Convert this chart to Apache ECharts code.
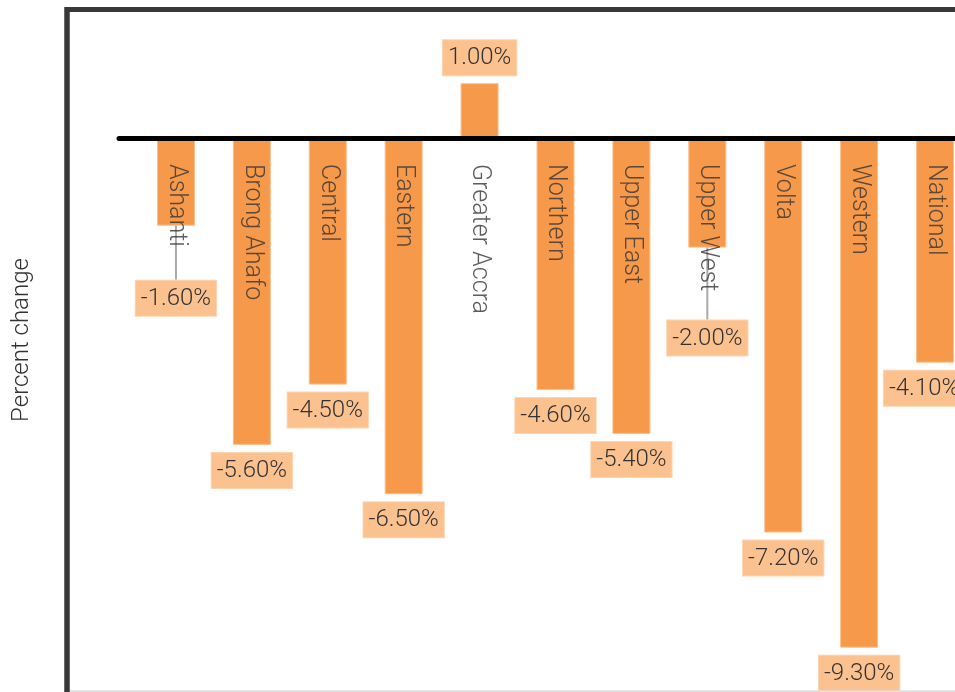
<!DOCTYPE html>
<html>
<head>
<meta charset="utf-8">
<script src="https://cdn.jsdelivr.net/npm/echarts@6/dist/echarts.min.js"></script>
<style>
html,body{margin:0;padding:0;background:#fff;}
#c{width:955px;height:692px;}
</style>
</head>
<body>
<div id="c"></div>
<script>
const categories = ['Ashanti','Brong Ahafo','Central','Eastern','Greater Accra','Northern','Upper East','Upper West','Volta','Western','National'];
const values = [-1.6, -5.6, -4.5, -6.5, 1.0, -4.6, -5.4, -2.0, -7.2, -9.3, -4.1];
const yMin = -12, yMax = 2;

// label nudges (style only) for labels moved to avoid overlaps
const labelShift = {'Ashanti': {dy: 47}, 'Upper West': {dy: 65}, 'National': {dx: -11}};

const FONT = 'Roboto';
const TXT = '#333333';
const PX_PER_UNIT = 54.8;
const ZERO_Y = 138;
const gridTop = ZERO_Y - yMax * PX_PER_UNIT;
const gridHeight = (yMax - yMin) * PX_PER_UNIT;
const gridBottom = 692 - gridTop - gridHeight;

const chart = echarts.init(document.getElementById('c'), null, {renderer: 'canvas'});

const barData = values.map((v, i) => ({
  value: v,
  label: {position: v < 0 ? 'bottom' : 'top'},
  labelLine: {show: !!(labelShift[categories[i]] && labelShift[categories[i]].dy)}
}));

chart.setOption({
  animation: false,
  backgroundColor: '#ffffff',
  grid: [
    {left: 119, top: gridTop, bottom: gridBottom, right: -60, outerBoundsMode: 'none', containLabel: false},
    {left: 138, top: gridTop, bottom: gridBottom, right: -18, outerBoundsMode: 'none', containLabel: false}
  ],
  xAxis: [
    {
      type: 'value', gridIndex: 0, min: 0, max: 1, z: 10,
      axisLine: {show: true, onZero: true, lineStyle: {color: '#000', width: 5}},
      axisTick: {show: false}, axisLabel: {show: false}, splitLine: {show: false}
    },
    {
      type: 'category', gridIndex: 1, data: categories,
      axisLine: {show: false}, axisTick: {show: false},
      axisLabel: {show: false}, splitLine: {show: false}
    }
  ],
  yAxis: [
    {type: 'value', gridIndex: 0, min: yMin, max: yMax, show: false},
    {type: 'value', gridIndex: 1, min: yMin, max: yMax, show: false}
  ],
  series: [{
    type: 'bar',
    xAxisIndex: 1, yAxisIndex: 1,
    data: barData,
    barWidth: 38,
    itemStyle: {color: '#f7994a', borderColor: '#fbbf8c', borderWidth: 1},
    label: {
      show: true,
      distance: 8,
      formatter: p => p.value.toFixed(2) + '%',
      color: TXT, fontFamily: FONT, fontWeight: 300, fontSize: 24,
      backgroundColor: '#fbc290', borderColor: '#fdd4b0', borderWidth: 1,
      padding: [6, 5, 5, 5]
    },
    labelLine: {lineStyle: {color: '#aaaaaa', width: 2}},
    labelLayout: function (params) {
      const s = labelShift[categories[params.dataIndex]];
      return s ? {dx: s.dx || 0, dy: s.dy || 0} : {};
    }
  }, {
    // category names hung from the zero line
    type: 'scatter',
    xAxisIndex: 1, yAxisIndex: 1,
    z: 5,
    symbolSize: 0,
    silent: true,
    data: categories.map(c => [c, 0]),
    label: {
      show: true,
      formatter: p => p.name || p.value[0],
      position: 'bottom', distance: 28, offset: [-2, 0],
      rotate: -90, align: 'left', verticalAlign: 'middle',
      color: TXT, fontFamily: FONT, fontWeight: 300, fontSize: 25
    }
  }],
  graphic: [
    {type: 'line', z: 100, shape: {x1: 67, y1: 9.5, x2: 960, y2: 9.5}, style: {stroke: '#383838', lineWidth: 5}},
    {type: 'line', z: 100, shape: {x1: 67, y1: 7, x2: 67, y2: 700}, style: {stroke: '#383838', lineWidth: 5.5}},
    {type: 'line', z: 100, shape: {x1: 70, y1: 691, x2: 960, y2: 691}, style: {stroke: '#dddddd', lineWidth: 1.5}},
    {type: 'text', z: 100, x: 22, y: 340, rotation: Math.PI / 2,
      style: {text: 'Percent change', fill: TXT, font: '300 24px Roboto', align: 'center', verticalAlign: 'middle'}}
  ]
});
</script>
</body>
</html>
